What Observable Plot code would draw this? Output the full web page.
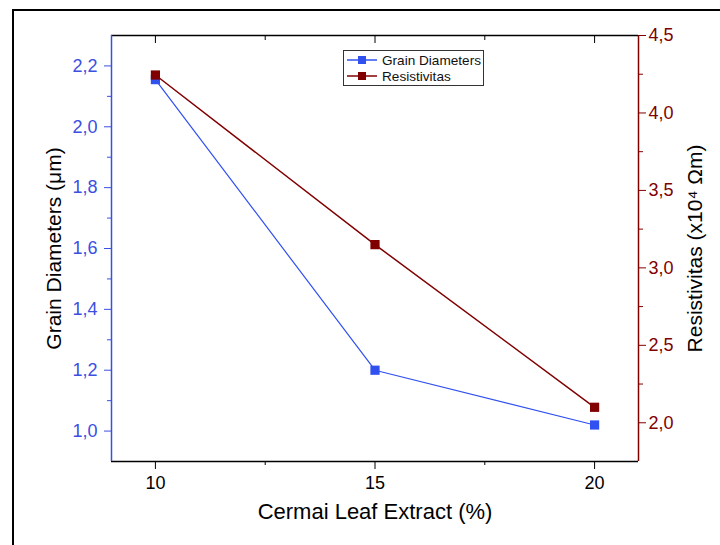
<!DOCTYPE html>
<html>
<head>
<meta charset="utf-8">
<script src="https://cdn.jsdelivr.net/npm/d3@7"></script>
<script src="https://cdn.jsdelivr.net/npm/@observablehq/plot@0.6"></script>
<style>
  html, body { margin: 0; padding: 0; background: #fff; overflow: hidden; width: 720px; height: 545px; }
  #wrap { position: relative; width: 720px; height: 545px; font-family: "Liberation Sans", Arial, sans-serif; }
  #frame { position: absolute; left: 12px; top: 9px; width: 740px; height: 560px; border: 2px solid #000; box-sizing: border-box; }
  #chart { position: absolute; left: 0; top: 0; }
  #legend { position: absolute; left: 343px; top: 50px; width: 141px; height: 36px; border: 1px solid #333; background: #fff; box-sizing: border-box; font-size: 13.6px; }
  .row { position: absolute; left: 2px; height: 16px; display: flex; align-items: center; }
  .row span { margin-left: 4px; color: #111; }
</style>
</head>
<body>
<div id="wrap">
  <div id="frame"></div>
  <div id="chart"></div>
  <div id="legend"></div>
</div>
<script>
// Data
const extract = [10, 15, 20];
const grainDiameters = [2.155, 1.2, 1.02];
const resistivitas = [4.245, 3.15, 2.10];

// Tick labels / axes
const xTicks = [10, 15, 20];
const xMinor = [12.5, 17.5];
const leftTicks = [1.0, 1.2, 1.4, 1.6, 1.8, 2.0, 2.2];
const leftMinor = [1.1, 1.3, 1.5, 1.7, 1.9, 2.1];
const rightTicks = [2.0, 2.5, 3.0, 3.5, 4.0, 4.5];
const rightMinor = [2.25, 2.75, 3.25, 3.75, 4.25];

const xDomain = [9, 21];
const leftDomain = [0.9, 2.3];
const rightDomain = [1.75, 4.5];

const BLUE = "#3050f0";
const BLUE_AX = "#3b4fe0";
const RED = "#800000";

const toLeft = r => leftDomain[0] + (r - rightDomain[0]) * (leftDomain[1] - leftDomain[0]) / (rightDomain[1] - rightDomain[0]);
const fromLeft = v => rightDomain[0] + (v - leftDomain[0]) * (rightDomain[1] - rightDomain[0]) / (leftDomain[1] - leftDomain[0]);
const comma = d => d3.format(".1f")(d).replace(".", ",");

const grain = extract.map((x, i) => ({x, y: grainDiameters[i]}));
const resist = extract.map((x, i) => ({x, y: toLeft(resistivitas[i]), r: resistivitas[i]}));

const plot = Plot.plot({
  width: 720,
  height: 545,
  marginLeft: 111,
  marginRight: 82,
  marginTop: 35,
  marginBottom: 84,
  style: { fontFamily: "'Liberation Sans', Arial, sans-serif", fontSize: "18px", background: "transparent", color: "#000" },
  x: { domain: xDomain },
  y: { domain: leftDomain },
  marks: [
    // bottom axis
    Plot.axisX({ anchor: "bottom", ticks: xTicks, tickSize: 8, tickPadding: 7, tickFormat: d => String(d), label: null, fontSize: 18, stroke: "#000", fill: "#000" }),
    Plot.axisX({ anchor: "bottom", ticks: xMinor, tickSize: 4, tickFormat: () => "", label: null, stroke: "#000" }),
    // top ticks (inward)
    Plot.axisX({ anchor: "top", ticks: xTicks, tickSize: -7, tickFormat: () => "", label: null, stroke: "#000" }),
    Plot.axisX({ anchor: "top", ticks: xMinor, tickSize: -4, tickFormat: () => "", label: null, stroke: "#000" }),
    // left axis
    Plot.axisY({ anchor: "left", ticks: leftTicks, tickSize: 7, tickPadding: 7, tickFormat: comma, label: null, stroke: BLUE_AX, fill: BLUE_AX, fontSize: 18 }),
    Plot.axisY({ anchor: "left", ticks: leftMinor, tickSize: 4, tickFormat: () => "", label: null, stroke: BLUE_AX }),
    // right axis
    Plot.axisY({ anchor: "right", ticks: rightTicks.map(toLeft), tickSize: 7, tickPadding: 3, tickFormat: d => comma(Math.round(fromLeft(d) * 10) / 10), label: null, stroke: RED, fill: RED, fontSize: 18 }),
    Plot.axisY({ anchor: "right", ticks: rightMinor.map(toLeft), tickSize: 4, tickFormat: () => "", label: null, stroke: RED }),
    // box lines
    Plot.ruleY([leftDomain[1]], { stroke: "#000", strokeWidth: 1.5 }),
    Plot.ruleY([leftDomain[0]], { stroke: "#000", strokeWidth: 1.5 }),
    Plot.ruleX([xDomain[0]], { stroke: BLUE_AX, strokeWidth: 1.5 }),
    Plot.ruleX([xDomain[1]], { stroke: RED, strokeWidth: 1.5 }),
    // series
    Plot.line(grain, { x: "x", y: "y", stroke: BLUE, strokeWidth: 1.2 }),
    Plot.line(resist, { x: "x", y: "y", stroke: RED, strokeWidth: 1.5 }),
    Plot.dot(grain, { x: "x", y: "y", symbol: "square", r: 5.2, fill: BLUE, stroke: "none" }),
    Plot.dot(resist, { x: "x", y: "y", symbol: "square", r: 5.2, fill: RED, stroke: "none" }),
    // axis titles
    Plot.text(["Grain Diameters (μm)"], { frameAnchor: "left", textAnchor: "middle", dx: -57, rotate: -90, fontSize: 21, fill: "#000" }),
    Plot.text(["Resistivitas (x10⁴ Ωm)"], { frameAnchor: "right", textAnchor: "middle", dx: 57, rotate: -90, fontSize: 21, fill: "#000" }),
    Plot.text(["Cermai Leaf Extract (%)"], { frameAnchor: "bottom", textAnchor: "middle", dy: 57, fontSize: 22, fill: "#000" })
  ]
});
document.getElementById("chart").appendChild(plot);

// Legend
const legendItems = [
  { label: "Grain Diameters", color: BLUE },
  { label: "Resistivitas", color: RED }
];
const legend = document.getElementById("legend");
legendItems.forEach((it, i) => {
  const row = document.createElement("div");
  row.className = "row";
  row.style.top = (1 + i * 16) + "px";
  row.innerHTML = `<svg width="32" height="16"><line x1="1" x2="31" y1="8" y2="8" stroke="${it.color}" stroke-width="1.5"/><rect x="12" y="4" width="8" height="8" fill="${it.color}"/></svg><span>${it.label}</span>`;
  legend.appendChild(row);
});
</script>
</body>
</html>
